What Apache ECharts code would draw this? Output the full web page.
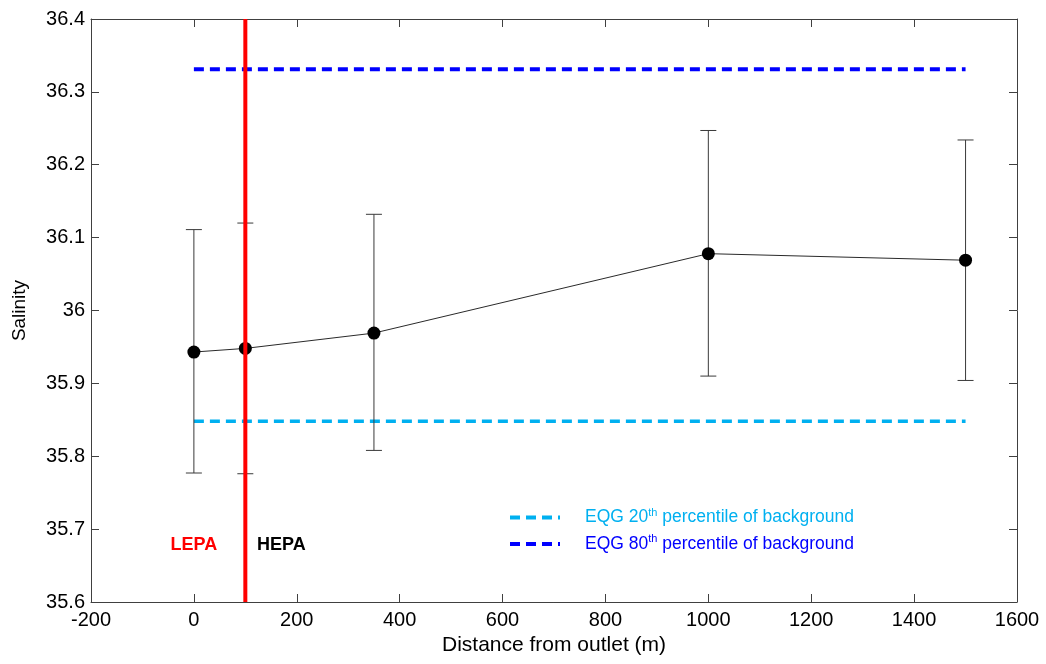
<!DOCTYPE html>
<html>
<head>
<meta charset="utf-8">
<script src="https://cdn.jsdelivr.net/npm/echarts@6/dist/echarts.min.js"></script>
<style>
  html, body { margin: 0; padding: 0; background: #fff; }
  #container { width: 1046px; height: 664px; }
</style>
</head>
<body>
<div id="container"></div>
<script>
// distance from outlet (m) and mean salinity with error bar limits
const distances = [0, 100, 350, 1000, 1500];
const salinity = [35.943, 35.948, 35.969, 36.078, 36.069];
const errLow = [35.777, 35.776, 35.808, 35.910, 35.904];
const errHigh = [36.111, 36.120, 36.132, 36.247, 36.234];

// background percentile reference lines
const bgRange = [0, 1500];
const p20 = 35.848;
const p80 = 36.331;

// LEPA/HEPA boundary
const boundaryX = 100;
const labels = [
  { name: 'LEPA', x: 0, y: 35.678, color: '#ff0000' },
  { name: 'HEPA', x: 170, y: 35.678, color: '#000000' },
];

const xTicks = { min: -200, max: 1600, interval: 200 };
const yTicks = { min: 35.6, max: 36.4, interval: 0.1 };

const dom = document.getElementById('container');
const myChart = echarts.init(dom);
const font = 'Liberation Sans, Arial, sans-serif';
const axisColor = '#404040';

const errData = distances.map((d, i) => [d, errLow[i], errHigh[i]]);

function renderErr(params, api) {
  const x = api.value(0);
  const lo = api.coord([x, api.value(1)]);
  const hi = api.coord([x, api.value(2)]);
  const w = 8;
  const style = { stroke: '#3a3a3a', lineWidth: 1 };
  return {
    type: 'group',
    children: [
      { type: 'line', shape: { x1: lo[0], y1: lo[1], x2: hi[0], y2: hi[1] }, style },
      { type: 'line', shape: { x1: lo[0] - w, y1: lo[1], x2: lo[0] + w, y2: lo[1] }, style },
      { type: 'line', shape: { x1: hi[0] - w, y1: hi[1], x2: hi[0] + w, y2: hi[1] }, style },
    ],
  };
}

const legendRich = (color) => ({
  color: color,
  rich: {
    f: { color: color, fontSize: 17.5, fontFamily: font, padding: [0, 0, 0, 20] },
    t: { color: color, fontSize: 17.5, fontFamily: font },
    s: { color: color, fontSize: 11, fontFamily: font, verticalAlign: 'top', padding: [0, 0, 10, 0] },
  },
});

const axisBase = {
  type: 'value',
  splitLine: { show: false },
  axisLine: { show: true, onZero: false, lineStyle: { color: axisColor, width: 1 } },
  axisTick: { show: true, inside: true, length: 8, lineStyle: { color: axisColor } },
};

const option = {
  animation: false,
  backgroundColor: '#ffffff',
  grid: { left: 91, right: 29, top: 19, bottom: 62, containLabel: false },
  legend: {
    left: 503,
    top: 502,
    orient: 'vertical',
    itemWidth: 50,
    itemHeight: 14,
    itemGap: 7,
    itemStyle: { color: 'transparent', borderWidth: 0, opacity: 0 },
    lineStyle: { width: 4 },
    data: [
      { name: 'p20', textStyle: legendRich('#00b0f0') },
      { name: 'p80', textStyle: legendRich('#0000ff') },
    ],
    formatter: (name) => name === 'p20'
      ? '{f|EQG 20}{s|th}{t| percentile of background}'
      : '{f|EQG 80}{s|th}{t| percentile of background}',
    textStyle: { fontFamily: font, fontSize: 17.5 },
  },
  xAxis: [
    Object.assign({}, axisBase, {
      min: xTicks.min, max: xTicks.max, interval: xTicks.interval,
      position: 'bottom',
      name: 'Distance from outlet (m)',
      nameLocation: 'middle',
      nameGap: 33,
      nameTextStyle: { fontFamily: font, fontSize: 21, color: '#000' },
      axisLabel: {
        fontFamily: font, fontSize: 20, color: '#000', margin: 8,
        formatter: (v) => String(v),
      },
    }),
    Object.assign({}, axisBase, {
      min: xTicks.min, max: xTicks.max, interval: xTicks.interval,
      position: 'top',
      axisLabel: { show: false },
    }),
  ],
  yAxis: [
    Object.assign({}, axisBase, {
      min: yTicks.min, max: yTicks.max, interval: yTicks.interval,
      position: 'left',
      name: 'Salinity',
      nameLocation: 'middle',
      nameGap: 62,
      nameTextStyle: { fontFamily: font, fontSize: 19, color: '#000' },
      axisLabel: {
        fontFamily: font, fontSize: 20, color: '#000', margin: 6,
        formatter: (v) => String(+v.toFixed(1)),
      },
    }),
    Object.assign({}, axisBase, {
      min: yTicks.min, max: yTicks.max, interval: yTicks.interval,
      position: 'right',
      axisLabel: { show: false },
    }),
  ],
  series: [
    {
      name: 'p20',
      type: 'line',
      data: bgRange.map((x) => [x, p20]),
      symbol: 'none',
      lineStyle: { color: '#00b0f0', width: 3.5, type: [10, 6] },
      itemStyle: { color: '#00b0f0' },
      z: 2,
    },
    {
      name: 'p80',
      type: 'line',
      data: bgRange.map((x) => [x, p80]),
      symbol: 'none',
      lineStyle: { color: '#0000ff', width: 4, type: [10, 6] },
      itemStyle: { color: '#0000ff' },
      z: 2,
    },
    {
      name: 'err',
      type: 'custom',
      renderItem: renderErr,
      data: errData,
      z: 3,
    },
    {
      name: 'Salinity',
      type: 'line',
      data: distances.map((d, i) => [d, salinity[i]]),
      symbol: 'circle',
      symbolSize: 13,
      itemStyle: { color: '#000' },
      lineStyle: { color: '#2a2a2a', width: 1 },
      z: 4,
    },
    {
      name: 'boundary',
      type: 'line',
      data: [[boundaryX, yTicks.min], [boundaryX, yTicks.max]],
      symbol: 'none',
      lineStyle: { color: '#ff0000', width: 4 },
      z: 5,
    },
    {
      name: 'labels',
      type: 'scatter',
      symbolSize: 0,
      itemStyle: { opacity: 1 },
      data: labels.map((l) => ({
        value: [l.x, l.y],
        label: {
          show: true,
          position: 'inside',
          formatter: l.name,
          color: l.color,
          fontWeight: 'bold',
          fontSize: 18,
          fontFamily: font,
        },
      })),
      z: 6,
    },
  ],
};

myChart.setOption(option, true);
</script>
</body>
</html>
